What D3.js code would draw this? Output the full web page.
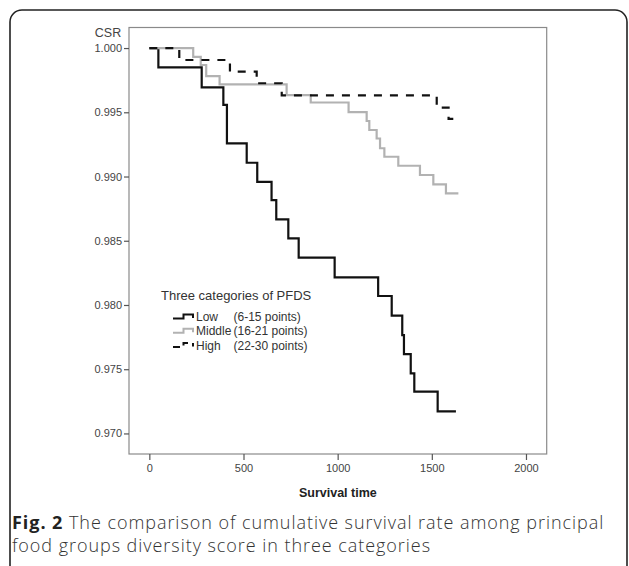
<!DOCTYPE html>
<html>
<head>
    <meta charset="utf-8">
    <title>Cumulative survival by PFDS category</title>
    <script src="https://d3js.org/d3.v7.min.js" charset="utf-8"></script>
    <style>
        body { margin: 0; background: #fff; }
        svg { display: block; }
    </style>
</head>
<body>
    <script>
        // survival steps (time, cumulative survival)
        var lowTime = [0, 48, 278, 393, 412, 517, 573, 649, 674, 738, 793, 984, 1215, 1287, 1343, 1352, 1388, 1407, 1531, 1628];
        var lowSurv = [1.0, 0.99850, 0.99694, 0.99557, 0.99258, 0.99107, 0.98959, 0.98817, 0.98667, 0.98519, 0.98368, 0.98215, 0.98070, 0.97917, 0.97766, 0.97618, 0.97468, 0.97325, 0.97172, 0.97172];

        var midTime = [0, 233, 273, 302, 373, 729, 857, 1058, 1154, 1168, 1207, 1225, 1248, 1322, 1437, 1508, 1575, 1641];
        var midSurv = [1.0, 0.99931, 0.99868, 0.99782, 0.99718, 0.99634, 0.99576, 0.99502, 0.99432, 0.99362, 0.99296, 0.99220, 0.99154, 0.99084, 0.99012, 0.98939, 0.98869, 0.98869];

        var highTime = [0, 159, 428, 570, 703, 1526, 1589, 1614];
        var highSurv = [1.0, 0.99907, 0.99816, 0.99726, 0.99631, 0.99536, 0.99448, 0.99448];

        var groupNames = ["Low", "Middle", "High"];
        var groupRanges = ["(6-15 points)", "(16-21 points)", "(22-30 points)"];

        var xTicks = [0, 500, 1000, 1500, 2000];
        var yTicks = [0.970, 0.975, 0.980, 0.985, 0.990, 0.995, 1.000];

        var width = 629;
        var height = 566;
        var box = { left: 129, right: 546.7, top: 27.5, bottom: 454 };
        var font = "'Liberation Sans', Arial, sans-serif";

        var svg = d3.select("body").append("svg")
            .attr("width", width)
            .attr("height", height);

        // outer figure frame
        svg.append("rect")
            .attr("x", 10).attr("y", 10)
            .attr("width", 617).attr("height", 620)
            .attr("rx", 12)
            .attr("fill", "none")
            .attr("stroke", "#222")
            .attr("stroke-width", 1.6);

        var x = d3.scaleLinear().domain([-108, 2110]).range([box.left, box.right]);
        var y = d3.scaleLinear().domain([0.9684, 1.0016]).range([box.bottom, box.top]);

        // plot box
        svg.append("rect")
            .attr("x", box.left).attr("y", box.top)
            .attr("width", box.right - box.left)
            .attr("height", box.bottom - box.top)
            .attr("fill", "none")
            .attr("stroke", "#8a8a8a")
            .attr("stroke-width", 1.2);

        // axes
        var yAxis = svg.append("g")
            .attr("transform", "translate(" + box.left + ",0)")
            .call(d3.axisLeft(y).tickValues(yTicks).tickFormat(d3.format(".3f")).tickSize(5).tickPadding(2));

        var xAxis = svg.append("g")
            .attr("transform", "translate(0," + box.bottom + ")")
            .call(d3.axisBottom(x).tickValues(xTicks).tickFormat(d3.format("d")).tickSize(6).tickPadding(4));

        [xAxis, yAxis].forEach(function (g) {
            g.select(".domain").remove();
            g.selectAll("line").attr("stroke", "#555").attr("stroke-width", 1.2);
            g.selectAll("text")
                .attr("fill", "#444")
                .style("font-family", font)
                .style("font-size", "11px");
        });

        svg.append("text")
            .attr("x", 108).attr("y", 37)
            .attr("text-anchor", "middle")
            .attr("fill", "#444")
            .style("font-family", font)
            .style("font-size", "12.5px")
            .text("CSR");

        svg.append("text")
            .attr("x", (box.left + box.right) / 2).attr("y", 497)
            .attr("text-anchor", "middle")
            .attr("fill", "#222")
            .style("font-family", font)
            .style("font-size", "12.5px")
            .style("font-weight", "bold")
            .text("Survival time");

        // survival curves
        var step = d3.line()
            .x(function (d) { return x(d[0]); })
            .y(function (d) { return y(d[1]); })
            .curve(d3.curveStepAfter);

        var series = [
            { t: lowTime, s: lowSurv, color: "#111", dash: null },
            { t: midTime, s: midSurv, color: "#b2b2b2", dash: null },
            { t: highTime, s: highSurv, color: "#111", dash: "8,8" }
        ];

        series.forEach(function (d) {
            var pts = d.t.map(function (t, i) { return [t, d.s[i]]; });
            svg.append("path")
                .datum(pts)
                .attr("d", step)
                .attr("fill", "none")
                .attr("stroke", d.color)
                .attr("stroke-width", 2.2)
                .attr("stroke-dasharray", d.dash);
        });

        // legend
        var legend = svg.append("g");
        legend.append("text")
            .attr("x", 161).attr("y", 300)
            .attr("fill", "#333")
            .style("font-family", font)
            .style("font-size", "13px")
            .text("Three categories of PFDS");

        var rows = legend.selectAll("g.row")
            .data(series)
            .enter()
            .append("g")
            .attr("class", "row")
            .attr("transform", function (d, i) { return "translate(0," + (317 + i * 14.3) + ")"; });

        rows.append("path")
            .attr("d", "M173,1.5H183.5V-2.5H193V1")
            .attr("fill", "none")
            .attr("stroke", function (d) { return d.color; })
            .attr("stroke-width", 2)
            .attr("stroke-dasharray", function (d) { return d.dash ? "7,5" : null; });

        rows.append("text")
            .attr("x", 196).attr("y", 4)
            .attr("fill", "#333")
            .style("font-family", font)
            .style("font-size", "12px")
            .text(function (d, i) { return groupNames[i]; });

        rows.append("text")
            .attr("x", 233.5).attr("y", 4)
            .attr("fill", "#333")
            .style("font-family", font)
            .style("font-size", "12px")
            .text(function (d, i) { return groupRanges[i]; });

        // caption
        var capStyle = function (sel) {
            sel.attr("fill", "#333")
                .style("font-family", "'Open Sans', sans-serif")
                .style("font-size", "18px")
                .style("font-weight", "300")
                .style("letter-spacing", "0.95px");
        };

        var cap = svg.append("text")
            .attr("x", 12).attr("y", 529)
            .call(capStyle);
        cap.append("tspan").style("font-weight", "bold").attr("fill", "#222").text("Fig. 2");
        cap.append("tspan").text(" The comparison of cumulative survival rate among principal");

        svg.append("text")
            .attr("x", 12).attr("y", 551.5)
            .call(capStyle)
            .text("food groups diversity score in three categories");
    </script>
</body>
</html>
